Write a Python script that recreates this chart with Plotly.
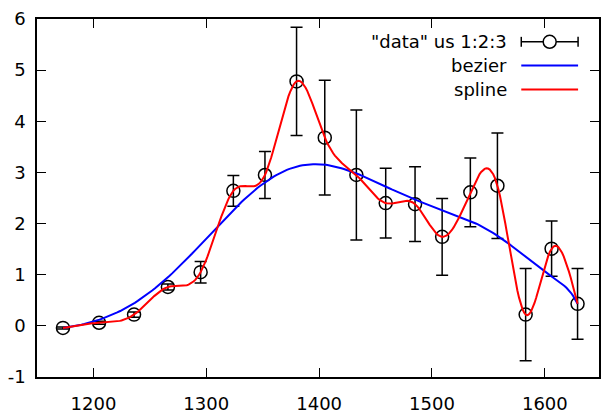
import numpy as np
import plotly.graph_objects as go
from math import comb

# ---- data ----
x_data = [1173, 1205, 1236, 1266, 1295, 1324, 1352, 1380, 1405, 1433, 1459, 1485, 1509, 1534, 1558, 1583, 1606, 1629]
y_data = [-0.04, 0.06, 0.22, 0.76, 1.05, 2.64, 2.95, 4.78, 3.68, 2.95, 2.40, 2.38, 1.74, 2.61, 2.74, 0.22, 1.51, 0.43]
y_err = [0.02, 0.03, 0.05, 0.06, 0.21, 0.30, 0.46, 1.06, 1.12, 1.27, 0.68, 0.73, 0.75, 0.67, 1.03, 0.90, 0.54, 0.69]

x_ticks = [1200, 1300, 1400, 1500, 1600]
y_ticks = [-1, 0, 1, 2, 3, 4, 5, 6]
y_tick_labels = ["-1", "0", "1", "2", "3", "4", "5", "6"]
legend_labels = ['"data" us 1:2:3', "bezier", "spline"]

# ---- smoothing as gnuplot does (smooth bezier / smooth csplines) ----
xa = np.array(x_data, float)
ya = np.array(y_data, float)
n = len(xa) - 1

t = np.linspace(0, 1, 200)
bx = np.zeros_like(t)
by = np.zeros_like(t)
for i in range(n + 1):
    b = comb(n, i) * t**i * (1 - t)**(n - i)
    bx += b * xa[i]
    by += b * ya[i]

# natural cubic spline
h = np.diff(xa)
A = np.zeros((n + 1, n + 1))
r = np.zeros(n + 1)
A[0, 0] = 1
A[n, n] = 1
for i in range(1, n):
    A[i, i - 1] = h[i - 1]
    A[i, i] = 2 * (h[i - 1] + h[i])
    A[i, i + 1] = h[i]
    r[i] = 6 * ((ya[i + 1] - ya[i]) / h[i] - (ya[i] - ya[i - 1]) / h[i - 1])
M = np.linalg.solve(A, r)
sx = np.linspace(xa[0], xa[-1], 300)
idx = np.clip(np.searchsorted(xa, sx) - 1, 0, n - 1)
x0 = xa[idx]; x1 = xa[idx + 1]; hh = x1 - x0
sy = (M[idx] * (x1 - sx)**3 / (6 * hh) + M[idx + 1] * (sx - x0)**3 / (6 * hh)
      + (ya[idx] / hh - M[idx] * hh / 6) * (x1 - sx)
      + (ya[idx + 1] / hh - M[idx + 1] * hh / 6) * (sx - x0))

FONT = "DejaVu Sans"
FS = 18
fig = go.Figure()
fig.add_trace(go.Scatter(
    x=x_data, y=y_data, mode="markers",
    marker=dict(symbol="circle-open", size=13, color="black", line=dict(width=1.5, color="black")),
    error_y=dict(type="data", array=y_err, visible=True, color="black", thickness=1.5, width=6),
    showlegend=False))
fig.add_trace(go.Scatter(x=bx, y=by, mode="lines", line=dict(color="#0000ff", width=2), showlegend=False))
fig.add_trace(go.Scatter(x=sx, y=sy, mode="lines", line=dict(color="#ff0000", width=2), showlegend=False))

W, H = 601, 414
L, R, T, B = 37, 0, 19, 34
pw, ph = W - L - R, H - T - B

def px(xp):
    return (xp - L) / pw

def py(yp):
    return (H - B - yp) / ph

rows = [42, 66, 90]
shapes = []
annotations = []
for lab, yr in zip(legend_labels, rows):
    annotations.append(dict(xref="paper", yref="paper", x=px(511), y=py(yr), text=lab,
                            showarrow=False, xanchor="right", yanchor="middle",
                            font=dict(family=FONT, size=FS, color="black")))
# errorbar sample
shapes.append(dict(type="line", xref="paper", yref="paper", x0=px(523), x1=px(580), y0=py(rows[0]), y1=py(rows[0]),
                   line=dict(color="black", width=1.5)))
for xc in (523, 580):
    shapes.append(dict(type="line", xref="paper", yref="paper", x0=px(xc), x1=px(xc),
                       y0=py(rows[0] - 5), y1=py(rows[0] + 5), line=dict(color="black", width=1.5)))
shapes.append(dict(type="circle", xref="paper", yref="paper", xsizemode="pixel", ysizemode="pixel",
                   xanchor=px(551.5), yanchor=py(rows[0]), x0=-6.5, x1=6.5, y0=-6.5, y1=6.5,
                   fillcolor="white", line=dict(color="black", width=1.5)))
shapes.append(dict(type="line", xref="paper", yref="paper", x0=px(523), x1=px(580), y0=py(rows[1]), y1=py(rows[1]),
                   line=dict(color="#0000ff", width=2)))
shapes.append(dict(type="line", xref="paper", yref="paper", x0=px(523), x1=px(580), y0=py(rows[2]), y1=py(rows[2]),
                   line=dict(color="#ff0000", width=2)))

axis_common = dict(showgrid=False, zeroline=False, showline=True, linecolor="black", linewidth=1.5,
                   mirror="ticks", ticks="inside", ticklen=9, tickwidth=1.2, tickcolor="black",
                   tickfont=dict(family=FONT, size=FS, color="black"))
fig.update_layout(
    width=W, height=H, margin=dict(l=L, r=R, t=T, b=B),
    paper_bgcolor="white", plot_bgcolor="white",
    xaxis=dict(range=[1150, 1648], tickvals=x_ticks, ticklabelstandoff=10, **axis_common),
    yaxis=dict(range=[-1, 6], tickvals=y_ticks, ticktext=y_tick_labels, ticklabelstandoff=6, **axis_common),
    shapes=shapes, annotations=annotations, showlegend=False,
)
fig.write_html("out.html")
